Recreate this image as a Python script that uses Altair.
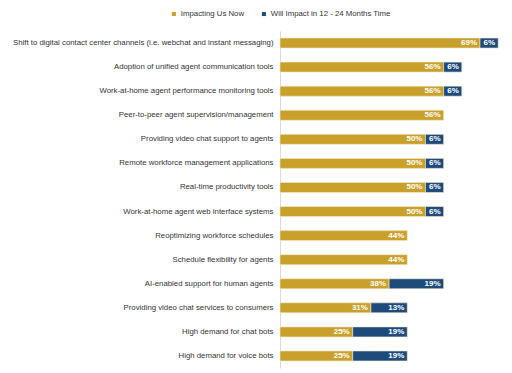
import altair as alt
import pandas as pd

categories = [
    "Shift to digital contact center channels (i.e. webchat and instant messaging)",
    "Adoption of unified agent communication tools",
    "Work-at-home agent performance monitoring tools",
    "Peer-to-peer agent supervision/management",
    "Providing video chat support to agents",
    "Remote workforce management applications",
    "Real-time productivity tools",
    "Work-at-home agent web interface systems",
    "Reoptimizing workforce schedules",
    "Schedule flexibility for agents",
    "AI-enabled support for human agents",
    "Providing video chat services to consumers",
    "High demand for chat bots",
    "High demand for voice bots",
]
impacting_now = [0.6875, 0.5625, 0.5625, 0.5625, 0.50, 0.50, 0.50, 0.50, 0.4375, 0.4375, 0.375, 0.3125, 0.25, 0.25]
will_impact = [0.0625, 0.0625, 0.0625, 0.0, 0.0625, 0.0625, 0.0625, 0.0625, 0.0, 0.0, 0.1875, 0.125, 0.1875, 0.1875]
series = ["Impacting Us Now", "Will Impact in 12 - 24 Months Time"]
colors = ["#C9A02A", "#1F4B7A"]

rows = []
for i, c in enumerate(categories):
    for j, (s, vals) in enumerate(zip(series, [impacting_now, will_impact])):
        if vals[i] > 0:
            rows.append({"category": c, "series": s, "value": vals[i], "order": j})
df = pd.DataFrame(rows)

FONT = "Liberation Sans"

base = alt.Chart(df).encode(
    y=alt.Y("category:N", sort=categories, title=None,
            axis=alt.Axis(ticks=False, domainColor="#d9d9d9", labelFontSize=7.8,
                          labelColor="#333333", labelFont=FONT, labelLimit=400,
                          labelPadding=7)),
    x=alt.X("value:Q", stack="zero", axis=None, scale=alt.Scale(domain=[0, 0.77], nice=False)),
    order=alt.Order("order:Q"),
)

bars = base.mark_bar(size=10, stroke="#f3ead0", strokeWidth=0.6).encode(
    color=alt.Color("series:N", scale=alt.Scale(domain=series, range=colors),
                    legend=alt.Legend(title=None, orient="none", direction="horizontal",
                                      legendX=-110, legendY=-21, symbolType="square",
                                      symbolSize=16, symbolStrokeWidth=0,
                                      labelFontSize=7.8, labelFont=FONT, labelColor="#333333",
                                      columnPadding=15, symbolOffset=0, labelOffset=3))
)

labels = base.mark_text(align="right", dx=-3, fontSize=8, fontWeight="bold",
                        color="white", font=FONT, baseline="middle").encode(
    text=alt.Text("value:Q", format=".0%")
)

chart = (bars + labels).properties(
    width=224, height=337,
    autosize=alt.AutoSizeParams(type="none"),
    padding={"left": 272, "top": 23, "right": 0, "bottom": 5},
).configure_view(stroke=None)

chart.save("out.html", embed_options={"renderer": "svg", "actions": False})
